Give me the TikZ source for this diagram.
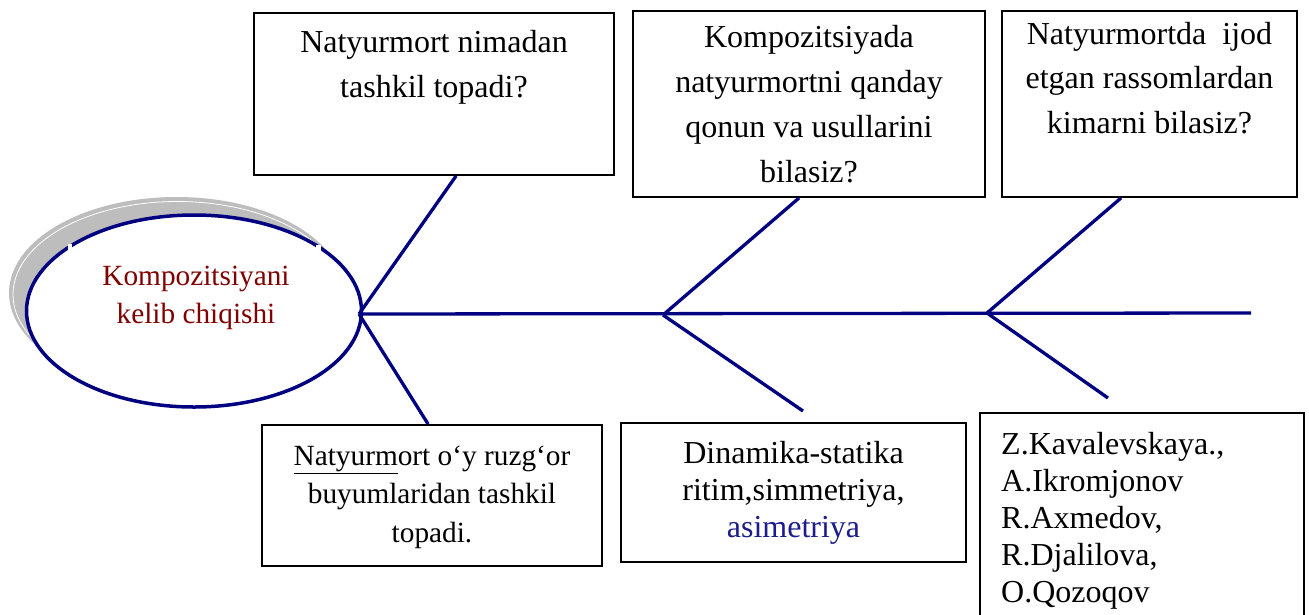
\documentclass[tikz,border=0pt]{standalone}
\usepackage{fontspec}
\setmainfont{Liberation Serif}
\usetikzlibrary{calc,shapes.geometric}
\definecolor{fishnavy}{HTML}{000080}
\definecolor{darkred}{HTML}{800000}
\definecolor{asiblue}{HTML}{1C1C8C}
\definecolor{shadowgray}{HTML}{BDBDBD}
\tikzset{
  box/.style={draw=black, line width=1.8pt, rectangle, inner sep=0pt, fill=white},
  bone/.style={draw=fishnavy, line width=3.3pt},
  qtext/.style={font=\fontsize{32}{44.5}\selectfont, align=center, anchor=base, inner sep=0pt},
  atext/.style={font=\fontsize{32}{37}\selectfont, align=center, anchor=base, inner sep=0pt},
  btext/.style={font=\fontsize{29.3}{38.5}\selectfont, align=center, anchor=base, inner sep=0pt},
}
\begin{document}
\begin{tikzpicture}[x=1pt,y=-1pt]
\useasboundingbox (0,0) rectangle (1309,614);
\fill[white] (0,0) rectangle (1309,614);

% shadow of the head
\fill[shadowgray] (176.5,293) ellipse [x radius=167.5, y radius=96];
\draw[white, line width=0.8pt] (177.5,294.5) ellipse [x radius=164.5, y radius=93];

% head
\node[ellipse, draw=fishnavy, line width=3.5pt, fill=white, minimum width=335pt, minimum height=192pt, inner sep=0pt] (el) at (194,311) {};
\fill[white] (68,244) rectangle (72,250);
\fill[white] (316,245) rectangle (321,251);
\node[btext, text=darkred, font=\fontsize{29.3}{38}\selectfont] (te) at (196,323) {Kompozitsiyani\\kelib chiqishi};

% boxes
\node[box, minimum width=360pt, minimum height=162pt] (b1) at (434,94) {};
\node[box, minimum width=352pt, minimum height=186pt] (b2) at (809,104) {};
\node[box, minimum width=295pt, minimum height=186pt] (b3) at (1149.5,104) {};
\node[box, minimum width=340pt, minimum height=141pt] (b4) at (432,495.5) {};
\node[box, minimum width=345pt, minimum height=139pt] (b5) at (793.5,492.5) {};
\node[box, minimum width=324pt, minimum height=227pt] (b6) at (1142,526.5) {};

% texts (anchored at the baseline of their last line)
\node[qtext] (t1) at (434,97) {Natyurmort nimadan\\tashkil topadi?};
\node[qtext, font=\fontsize{32}{45}\selectfont] (t2) at (809,182) {Kompozitsiyada\\natyurmortni qanday\\qonun va usullarini\\bilasiz?};
\node[qtext] (t3) at (1149.5,133) {Natyurmortda\ \ ijod\\etgan rassomlardan\\kimarni bilasiz?};
\node[btext] (t4) at (432,542) {\underline{Natyurm}ort o‘y ruzg‘or\\buyumlaridan tashkil\\topadi.};
\node[atext] (t5) at (793.5,537) {Dinamika-statika\\ritim,simmetriya,\\\textcolor{asiblue}{asimetriya}};
\node[atext, align=left, anchor=base west] (t6) at (1001,602) {Z.Kavalevskaya.,\\A.Ikromjonov\\R.Axmedov,\\R.Djalilova,\\O.Qozoqov};

% skeleton
\coordinate (j1) at (359,314);
\coordinate (j2) at (663,315);
\coordinate (j3) at (987,313);
\coordinate (tail) at (1251,313);
\coordinate (e2) at (803,411);
\coordinate (e3) at (1108,398);
\draw[bone] (j1) -- (tail);
\draw[bone] (j1) -- ($(b1.south west)+(203,0)$);
\draw[bone] (j1) -- ($(b4.north west)+(167,0)$);
\draw[bone] (j2) -- ($(b2.south west)+(167,0)$);
\draw[bone] (j2) -- (e2);
\draw[bone] (j3) -- ($(b3.south west)+(120,0)$);
\draw[bone] (j3) -- (e3);
\end{tikzpicture}
\end{document}
